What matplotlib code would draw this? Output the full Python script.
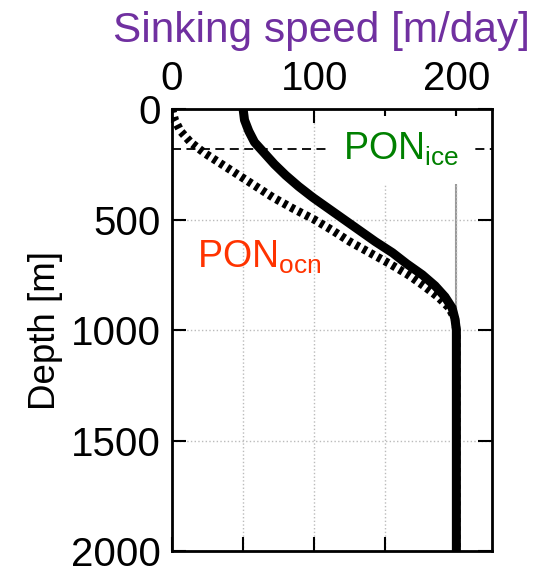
import matplotlib
matplotlib.use("Agg")
import matplotlib.pyplot as plt

# Depth levels [m] and sinking speeds [m/day]
depth = [0, 50, 100, 150, 200, 250, 300, 350, 400, 450, 500, 550, 600,
         650, 700, 750, 800, 850, 900, 950, 1000, 1500, 2000]
w_ice = [50, 51, 54, 58, 65, 72, 80, 89, 99, 110, 121, 132, 143,
         155, 165, 176, 185, 192, 197, 199, 200, 200, 200]
w_ocn = [0, 2, 6, 13, 23, 35, 47, 59, 71, 85, 100, 113, 125,
         139, 153, 166, 177, 187, 195, 199, 200, 200, 200]
ice_depth = 180
xticks = [0, 50, 100, 150, 200]
xticklabels = ["0", "", "100", "", "200"]
yticks = [0, 500, 1000, 1500, 2000]

plt.rcParams['font.family'] = ['Liberation Sans', 'DejaVu Sans']
plt.rcParams['mathtext.fontset'] = 'custom'
plt.rcParams['mathtext.rm'] = 'Liberation Sans'
plt.rcParams['mathtext.it'] = 'Liberation Sans'

fig = plt.figure(figsize=(5.35, 5.69), dpi=100)
ax = fig.add_axes([0.3215, 0.0316, 0.598, 0.7768])

ax.axvline(200, color='#999999', lw=1.5, zorder=1)
ax.axhline(ice_depth, color='black', lw=1.3, linestyle=(0, (5, 3)), zorder=2)
ax.plot(w_ocn, depth, color='black', lw=6, linestyle=(0, (0.5, 0.5)),
        solid_capstyle='butt', zorder=3)
ax.plot(w_ice, depth, color='black', lw=6.5, solid_capstyle='butt', zorder=4)

ax.set_xlim(0, 225)
ax.set_ylim(2000, 0)
ax.set_xticks(xticks)
ax.set_xticklabels(xticklabels)
ax.set_yticks(yticks)
ax.grid(True, color='#bbbbbb', linestyle=':', lw=1)
ax.tick_params(direction='in', length=10, width=1.5, top=True, bottom=True,
               left=True, right=True, labeltop=True, labelbottom=False,
               labelsize=29, pad=8)
for s in ax.spines.values():
    s.set_linewidth(2)

ax.set_ylabel("Depth [m]", fontsize=26.5, labelpad=6)

ax.text(120, 231, r"PON$_{\mathrm{ice}}$", color='#008000', fontsize=27,
        ha='left', va='baseline', zorder=5,
        bbox=dict(facecolor='white', edgecolor='none', pad=11))
ax.text(17.5, 716, r"PON$_{\mathrm{ocn}}$", color='#FF3300', fontsize=27,
        ha='left', va='baseline', zorder=5)

fig.text(0.601, 0.926, "Sinking speed [m/day]", color='#7030A0', fontsize=30.5,
         ha='center', va='baseline')

fig.savefig("out.png", dpi=100)
